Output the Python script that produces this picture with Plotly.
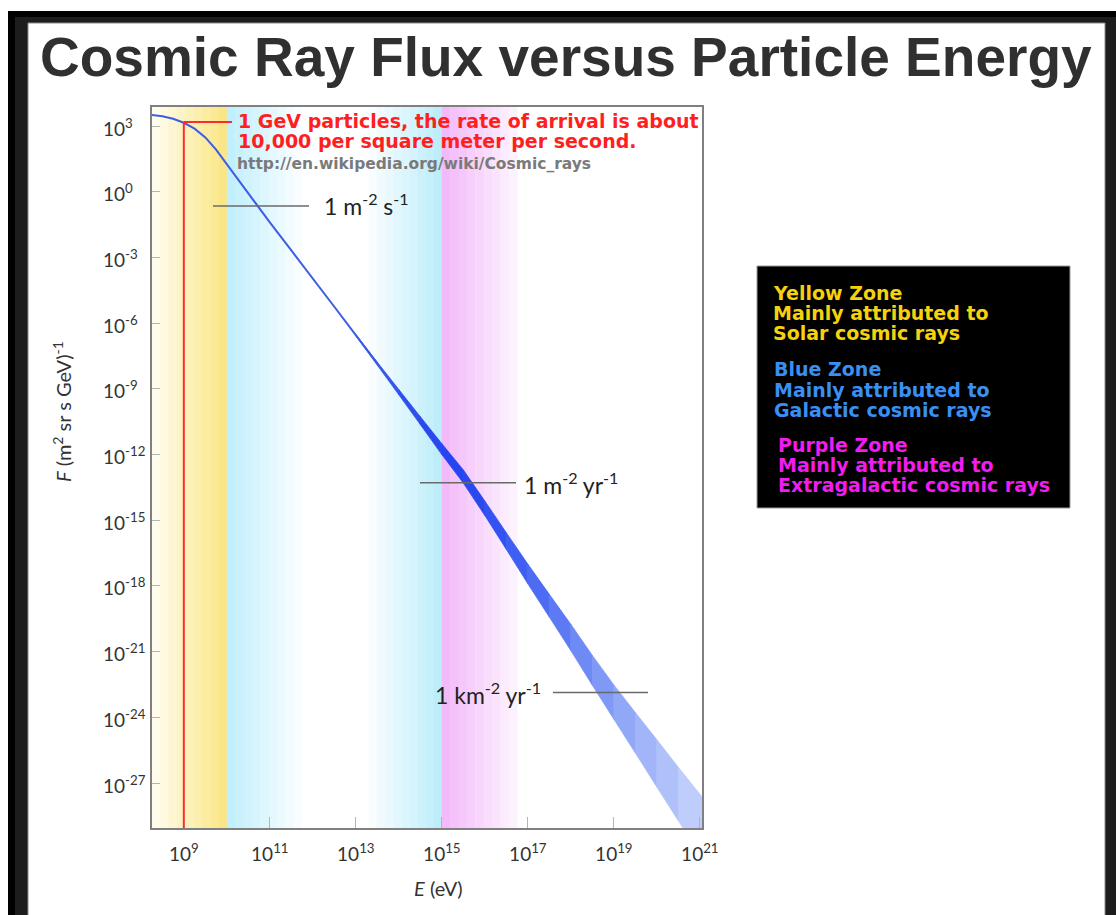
import plotly.graph_objects as go

# ---------------- data (log10 units) ----------------
log10_energy_eV = [8.26, 8.5, 8.75, 9.0, 9.25, 9.5, 9.75, 10.0, 10.25, 10.5, 10.75, 11.0,
                   11.5, 12.0, 12.5, 13.0, 13.5, 14.0, 14.5, 15.0, 15.5, 16.0, 16.5, 17.0,
                   17.5, 18.0, 18.5, 19.0, 19.5, 20.0, 20.5, 21.05]
log10_flux = [3.50, 3.45, 3.33, 3.15, 2.88, 2.48, 1.92, 1.25, 0.60, -0.08, -0.75, -1.40,
              -2.68, -3.95, -5.25, -6.55, -7.85, -9.15, -10.45, -11.75, -13.0, -14.45, -15.95, -17.45,
              -18.9, -20.35, -21.85, -23.3, -24.7, -26.1, -27.5, -29.0]
# half-width of the uncertainty band (decades)
band_half_width = [0, 0, 0, 0, 0, 0, 0, 0, 0, 0, 0, 0, 0, 0, 0,
                   0.03, 0.07, 0.12, 0.18, 0.25, 0.30, 0.33, 0.38, 0.45,
                   0.52, 0.60, 0.68, 0.78, 0.92, 1.08, 1.22, 1.38]

x_tick_exponents = [9, 11, 13, 15, 17, 19, 21]
y_tick_exponents = [3, 0, -3, -6, -9, -12, -15, -18, -21, -24, -27]

ref_levels_log10 = [-0.65, -13.29, -22.86]
ref_labels = ["1 m<sup>-2</sup> s<sup>-1</sup>",
              "1 m<sup>-2</sup> yr<sup>-1</sup>",
              "1 km<sup>-2</sup> yr<sup>-1</sup>"]

gev_energy_log10 = 9.0
gev_flux_log10 = 3.18

zones = [("Yellow Zone", "Mainly attributed to", "Solar cosmic rays"),
         ("Blue Zone", "Mainly attributed to", "Galactic cosmic rays"),
         ("Purple Zone", "Mainly attributed to", "Extragalactic cosmic rays")]

# ---------------- layout geometry ----------------
W, H = 1116, 915
PL, PR, PT, PB = 152, 702, 107, 828
X_RANGE = [8.26, 21.05]
Y_RANGE = [-29.05, 3.87]


def px(X):
    return (X - PL) / (PR - PL)


def py(Y):
    return (PB - Y) / (PB - PT)


def xdata(X):
    return X_RANGE[0] + (X - PL) / (PR - PL) * (X_RANGE[1] - X_RANGE[0])


def lerp_color(c0, c1, t):
    return "rgb(%d,%d,%d)" % tuple(round(a + (b - a) * t) for a, b in zip(c0, c1))


fig = go.Figure()
shapes = []
annotations = []

# outer frame
shapes.append(dict(type="rect", xref="paper", yref="paper", x0=px(8), x1=px(1130), y0=py(11), y1=py(940),
                   fillcolor="#000000", line=dict(width=0), layer="below"))
shapes.append(dict(type="rect", xref="paper", yref="paper", x0=px(15), x1=px(1130), y0=py(17), y1=py(940),
                   fillcolor="#1d1d1d", line=dict(width=0), layer="below"))
shapes.append(dict(type="rect", xref="paper", yref="paper", x0=px(28), x1=px(1105), y0=py(23), y1=py(940),
                   fillcolor="#ffffff", line=dict(width=1, color="#8a8a8a"), layer="below"))


# background zone strips (stepped gradients)
def add_strips(x0, x1, c0, c1, n):
    step = (x1 - x0) / n
    for i in range(n):
        t = (i + 0.5) / n
        shapes.append(dict(type="rect", xref="x", yref="paper",
                           x0=x0 + i * step, x1=x0 + (i + 1) * step + 0.01, y0=0, y1=1,
                           fillcolor=lerp_color(c0, c1, t), line=dict(width=0), layer="below"))


add_strips(8.26, 10.0, (255, 253, 242), (250, 229, 128), 9)
add_strips(10.0, 11.75, (190, 238, 251), (252, 254, 255), 9)
add_strips(13.3, 15.0, (252, 254, 255), (186, 236, 250), 9)
add_strips(15.0, 16.75, (242, 182, 250), (253, 246, 254), 9)

# ---------------- traces ----------------
line_n = 17
fig.add_trace(go.Scatter(x=log10_energy_eV[:line_n], y=log10_flux[:line_n], mode="lines",
                         line=dict(color="#3d5de6", width=2), hoverinfo="skip", showlegend=False))

band_colors = ["#3a5ae8", "#3454ec", "#2e4ef0", "#2a48f0", "#2644f0", "#2a48f0", "#3352f1", "#3f5ef2",
               "#4d6bf3", "#5d7af4", "#6e8af5", "#8099f6", "#91a8f7", "#a1b5f8", "#b0c1f9", "#becdfb"]
start = 15
for k, i in enumerate(range(start, len(log10_energy_eV) - 1)):
    e0, e1 = log10_energy_eV[i], log10_energy_eV[i + 1]
    f0, f1 = log10_flux[i], log10_flux[i + 1]
    h0, h1 = band_half_width[i], band_half_width[i + 1]
    col = band_colors[k]
    fig.add_trace(go.Scatter(x=[e0, e1, e1, e0, e0], y=[f0 + h0, f1 + h1, f1 - h1, f0 - h0, f0 + h0],
                             mode="lines", fill="toself", fillcolor=col,
                             line=dict(color=col, width=0.8), hoverinfo="skip", showlegend=False))

# ---------------- reference level lines ----------------
ref_line_px = [(213, 309), (420, 516), (553, 648)]
for lvl, (a, b) in zip(ref_levels_log10, ref_line_px):
    shapes.append(dict(type="line", xref="paper", yref="y", x0=px(a), x1=px(b), y0=lvl, y1=lvl,
                       line=dict(color="#6a6a6a", width=1.5), layer="above"))
ref_font = dict(family="Lato, Open Sans, sans-serif", size=23, color="#222222")
annotations.append(dict(text=ref_labels[0], x=px(322), xref="paper", y=ref_levels_log10[0], yref="y",
                        xanchor="left", yanchor="middle", yshift=2, showarrow=False, font=ref_font))
annotations.append(dict(text=ref_labels[1], x=px(522), xref="paper", y=ref_levels_log10[1], yref="y",
                        xanchor="left", yanchor="middle", yshift=-1, showarrow=False, font=ref_font))
annotations.append(dict(text=ref_labels[2], x=px(543), xref="paper", y=ref_levels_log10[2], yref="y",
                        xanchor="right", yanchor="middle", yshift=-1, showarrow=False, font=ref_font))

# ---------------- 1 GeV marker ----------------
shapes.append(dict(type="line", xref="x", yref="y", x0=gev_energy_log10, x1=gev_energy_log10,
                   y0=Y_RANGE[0], y1=gev_flux_log10, line=dict(color="#ff2a2a", width=2), layer="above"))
shapes.append(dict(type="line", xref="x", yref="y", x0=gev_energy_log10, x1=xdata(232),
                   y0=gev_flux_log10, y1=gev_flux_log10, line=dict(color="#ff2a2a", width=2), layer="above"))
red_font = dict(family="DejaVu Sans, sans-serif", size=19, color="#ff1f1f")
annotations.append(dict(text="<b>1 GeV particles, the rate of arrival is about</b>", x=px(236), y=py(120.5),
                        xref="paper", yref="paper", xanchor="left", yanchor="middle", showarrow=False, font=red_font))
annotations.append(dict(text="<b>10,000 per square meter per second.</b>", x=px(236), y=py(140.5),
                        xref="paper", yref="paper", xanchor="left", yanchor="middle", showarrow=False, font=red_font))
annotations.append(dict(text="<b>http://en.wikipedia.org/wiki/Cosmic_rays</b>", x=px(235), y=py(164),
                        xref="paper", yref="paper", xanchor="left", yanchor="middle", showarrow=False,
                        font=dict(family="DejaVu Sans, sans-serif", size=15.5, color="#7a7a7a")))

# ---------------- legend box ----------------
shapes.append(dict(type="rect", xref="paper", yref="paper", x0=px(757), x1=px(1070), y0=py(266), y1=py(508),
                   fillcolor="#000000", line=dict(color="#9a9a9a", width=1), layer="above"))
zone_colors = ["#f5d20c", "#3a8ff2", "#f01cf0"]
zone_x = [771, 772, 776]
zone_y = [[292.5, 313, 332.5], [369.5, 390, 409.5], [444.5, 465, 485]]
for lines, col, zx, zys in zip(zones, zone_colors, zone_x, zone_y):
    for txt, zy in zip(lines, zys):
        annotations.append(dict(text="<b>%s</b>" % txt, x=px(zx), y=py(zy), xref="paper", yref="paper",
                                xanchor="left", yanchor="middle", showarrow=False,
                                font=dict(family="DejaVu Sans, sans-serif", size=19, color=col)))

# ---------------- title ----------------
annotations.append(dict(text="<b>Cosmic Ray Flux versus Particle Energy</b>", x=px(38), y=py(57),
                        xref="paper", yref="paper", xanchor="left", yanchor="middle", showarrow=False,
                        font=dict(family="Liberation Sans, Arial, sans-serif", size=55, color="#303030")))

# ---------------- axis labels ----------------
tick_font = dict(family="Lato, Open Sans, sans-serif", size=19, color="#333333")
for v in y_tick_exponents:
    annotations.append(dict(text="10<sup>%d</sup>" % v, x=px(101), xref="paper", y=v, yref="y",
                            xanchor="left", yanchor="middle", yshift=-1, showarrow=False, font=tick_font))
annotations.append(dict(text="<i>F</i> (m<sup>2</sup> sr s GeV)<sup>-1</sup>", x=px(62), y=py(412),
                        xref="paper", yref="paper", xanchor="center", yanchor="middle", textangle=-90,
                        showarrow=False, font=dict(family="Lato, Open Sans, sans-serif", size=20, color="#333333")))
annotations.append(dict(text="<i>E</i> (eV)", x=px(438), y=py(888), xref="paper", yref="paper",
                        xanchor="center", yanchor="middle", showarrow=False,
                        font=dict(family="Lato, Open Sans, sans-serif", size=20, color="#333333")))

fig.update_layout(
    width=W, height=H, autosize=False,
    margin=dict(l=PL, r=W - PR, t=PT, b=H - PB, pad=0),
    paper_bgcolor="#ffffff", plot_bgcolor="rgba(0,0,0,0)",
    shapes=shapes, annotations=annotations, showlegend=False,
)
fig.update_xaxes(range=X_RANGE, showgrid=False, zeroline=False, showline=True, linecolor="#808080",
                 linewidth=1.5, mirror=True, ticks="inside", ticklen=11, tickwidth=1, tickcolor="#b4b4b4",
                 tickvals=x_tick_exponents, ticktext=["10<sup>%d</sup>" % v for v in x_tick_exponents],
                 tickfont=tick_font, ticklabelstandoff=8)
fig.update_yaxes(range=Y_RANGE, showgrid=False, zeroline=False, showline=True, linecolor="#808080",
                 linewidth=1.5, mirror=True, ticks="inside", ticklen=8, tickwidth=1, tickcolor="#b4b4b4",
                 tickvals=y_tick_exponents, showticklabels=False)

fig.write_html("out.html")
